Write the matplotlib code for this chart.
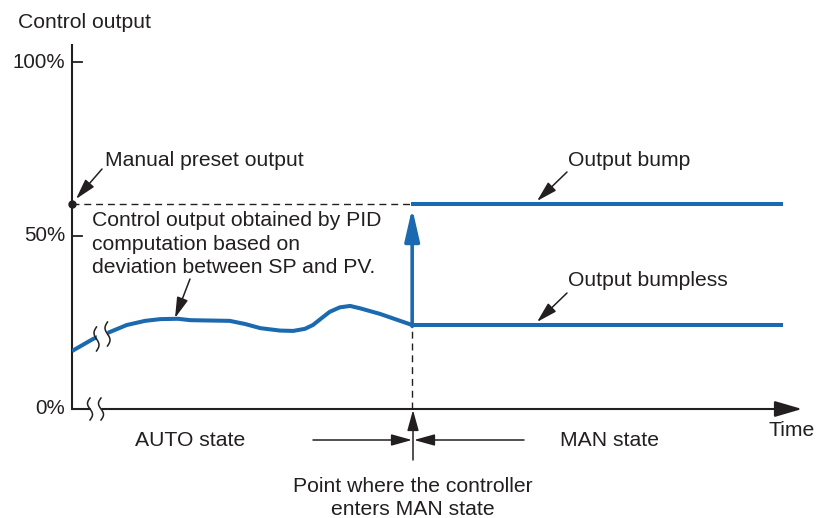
import numpy as np
import matplotlib
matplotlib.use("Agg")
import matplotlib.pyplot as plt

plt.rcParams['font.family'] = ['Liberation Sans', 'DejaVu Sans']

# data (time in arbitrary units 0..100, output in %)
auto_t = [0, 2.9, 5.2, 7.5, 10.0, 12.1, 14.5, 16.2, 18.9, 21.6, 23.7, 25.8,
          28.5, 30.3, 31.9, 33.0, 34.2, 35.3, 36.7, 38.1, 39.5, 42.2, 46.6]
auto_out = [16.7, 20.2, 22.2, 24.2, 25.4, 25.9, 26.0, 25.6, 25.5, 25.4, 24.5, 23.3,
            22.6, 22.5, 23.1, 24.2, 26.2, 28.0, 29.3, 29.7, 29.0, 27.4, 24.2]
t_switch = 46.6
t_end = 97.4
bump_level = 59.1
bumpless_level = 24.2
ytick_vals = [0, 50, 100]
ytick_labels = ['0%', '50%', '100%']

blue = '#1b6ab0'
ink = '#231f20'
fs = 15.2

W, H = 816, 518
fig = plt.figure(figsize=(W / 100, H / 100), dpi=100)
# axes area: x 0..100 -> px 72..802, y 0..100 -> px 409..62
ax = fig.add_axes([72 / W, 109 / H, 730 / W, 347 / H])
ax.set_xlim(0, 100)
ax.set_ylim(0, 100)
ax.axis('off')

sx = 730 / 100.0   # px per x unit
sy = 347 / 100.0   # px per y unit


def fp(px, py):
    return px / W, 1 - py / H


# axes lines
ax.plot([0, 0], [0, 104.9], color=ink, lw=1.5, clip_on=False, zorder=3)
ax.annotate('', xy=(100, 0), xytext=(0, 0),
            arrowprops=dict(arrowstyle='-|>,head_length=1.2,head_width=0.35',
                            mutation_scale=14, color=ink, lw=1.5,
                            shrinkA=0, shrinkB=0), annotation_clip=False)
for v, lab in zip(ytick_vals, ytick_labels):
    if v > 0:
        ax.plot([0, 10 / sx], [v, v], color=ink, lw=1.3, clip_on=False)
    ax.text(-7 / sx, v, lab, ha='right', va='center', fontsize=14.8, color=ink)

# signal
ax.plot(auto_t, auto_out, color=blue, lw=2.9, solid_capstyle='butt',
        solid_joinstyle='round', zorder=4)
ax.plot([t_switch, t_end], [bumpless_level, bumpless_level], color=blue, lw=2.9,
        solid_capstyle='butt', zorder=4)
ax.plot([t_switch - 1.5 / sx, t_end], [bump_level, bump_level], color=blue, lw=2.9,
        solid_capstyle='butt', zorder=4)
ax.annotate('', xy=(t_switch, bump_level - 1.2), xytext=(t_switch, bumpless_level - 0.4),
            arrowprops=dict(arrowstyle='-|>,head_length=1.4,head_width=0.32',
                            mutation_scale=14, color=blue, lw=2.6,
                            shrinkA=0, shrinkB=0), zorder=4)

# dashed guides
ax.plot([0, t_switch], [bump_level, bump_level], color=ink, lw=1.0,
        dashes=(5, 3.5), zorder=2)
ax.plot([t_switch, t_switch], [0, bumpless_level], color=ink, lw=1.0,
        dashes=(5, 3.5), zorder=2)
ax.plot([0], [bump_level], 'o', color=ink, ms=5, clip_on=False, zorder=5)


# break marks
def brk(xc, yc, slope_px=0.0, h=22):
    tt = np.linspace(-0.5, 0.5, 30)
    for off in (-5.5, 5.5):
        xs = xc + (off - 2.5 * np.sin(np.pi * 2 * tt)) / sx
        ys = yc + (tt * h - off * slope_px) / sy
        ax.plot(xs, ys, color=ink, lw=1.1, zorder=7, clip_on=False)
    # white gap between the marks
    ax.fill([xc - 4.5 / sx, xc + 4.5 / sx, xc + 4.5 / sx, xc - 4.5 / sx],
            [yc - (5 - 4.5 * slope_px) / sy, yc - (5 + 4.5 * slope_px) / sy,
             yc + (5 - 4.5 * slope_px) / sy, yc + (5 + 4.5 * slope_px) / sy],
            color='white', zorder=6, clip_on=False)


brk(23.5 / sx, 0)
brk(30.0 / sx, 20.9, slope_px=-0.45, h=24)

# annotations
arrow_k = dict(arrowstyle='-|>,head_length=0.9,head_width=0.25', mutation_scale=14,
               color=ink, lw=1.1, shrinkA=0, shrinkB=0)


def px2d(px, py):
    return (px - 72) / sx, (409 - py) / sy


ax.annotate('', xy=px2d(76, 199), xytext=px2d(102, 169), arrowprops=arrow_k,
            annotation_clip=False)
ax.annotate('', xy=px2d(175, 318), xytext=px2d(190, 279), arrowprops=arrow_k)
ax.annotate('', xy=px2d(537, 201), xytext=px2d(567, 172), arrowprops=arrow_k)
ax.annotate('', xy=px2d(537, 322), xytext=px2d(567, 293), arrowprops=arrow_k)

# switch-point arrows
ax.annotate('', xy=px2d(413, 410), xytext=px2d(413, 460), arrowprops=arrow_k,
            annotation_clip=False)
ax.annotate('', xy=px2d(412, 440), xytext=px2d(313, 440), arrowprops=arrow_k,
            annotation_clip=False)
ax.annotate('', xy=px2d(414, 440), xytext=px2d(524, 440), arrowprops=arrow_k,
            annotation_clip=False)

# texts
fig.text(*fp(18, 22), 'Control output', ha='left', va='center', fontsize=fs, color=ink)
fig.text(*fp(105, 160), 'Manual preset output', ha='left', va='center', fontsize=fs, color=ink)
fig.text(*fp(92, 244), 'Control output obtained by PID\ncomputation based on\ndeviation between SP and PV.',
         ha='left', va='center', fontsize=fs, color=ink, linespacing=1.32)
fig.text(*fp(568, 161), 'Output bump', ha='left', va='center', fontsize=fs, color=ink)
fig.text(*fp(568, 281), 'Output bumpless', ha='left', va='center', fontsize=fs, color=ink)
fig.text(*fp(190, 440), 'AUTO state', ha='center', va='center', fontsize=fs, color=ink)
fig.text(*fp(610, 440), 'MAN state', ha='center', va='center', fontsize=fs, color=ink)
fig.text(*fp(792, 430), 'Time', ha='center', va='center', fontsize=fs, color=ink)
fig.text(*fp(413, 498), 'Point where the controller\nenters MAN state', ha='center',
         va='center', fontsize=fs, color=ink, linespacing=1.25)

fig.savefig('out.png', dpi=100)
